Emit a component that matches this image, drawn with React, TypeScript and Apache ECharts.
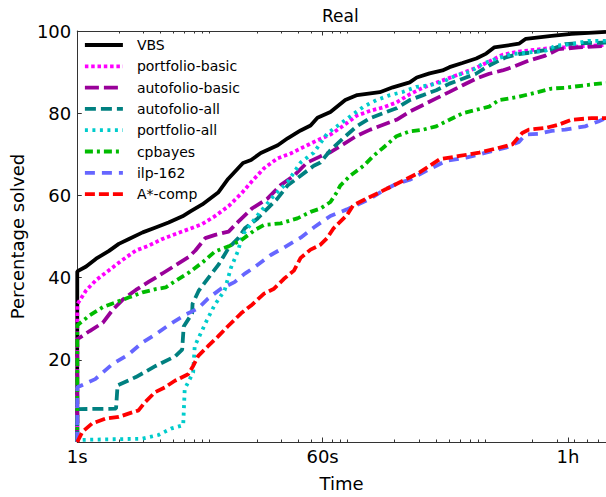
import React, { useEffect, useRef } from 'react';
import * as echarts from 'echarts';

const FONT = 'DejaVu Sans';

const seriesNames = ['VBS', 'portfolio-basic', 'autofolio-basic', 'autofolio-all', 'portfolio-all', 'cpbayes', 'ilp-162', 'A*-comp'];
const seriesColors = ['#000000', '#ff00ff', '#990099', '#008080', '#00cccc', '#00bb00', '#6666ff', '#ff0000'];
const seriesDash: (string | number[])[] = ['solid', [3.5, 2.8], [14, 5], [11, 5], [3, 4.5], [8, 4, 3, 4], [10, 7], [10, 4]];

const xTickValues = [1, 60, 3600];
const xTickLabels = ['1s', '60s', '1h'];
const xMinorTicks = [2, 3, 4, 5, 6, 7, 8, 9, 20, 30, 40, 50, 70, 80, 90, 200, 300, 400, 500, 600, 700, 800, 900, 2000, 3000, 4000, 5000, 6000];
const xMin = 1;
const xMax = 6800;

const vbs: number[][] = [[1,0],[1,41.5],[1.16,42.7],[1.37,44.6],[1.7,46.5],[2.0,48.2],[2.37,49.4],[2.98,51.0],[3.7,52.2],[4.59,53.4],[5.79,54.9],[6.61,56.1],[8.06,57.8],[10.5,60.7],[12.4,64.0],[15.9,67.9],[18.2,68.6],[21.4,70.3],[28.4,72.2],[33.5,73.9],[41.6,75.8],[49.1,77.0],[55.1,78.9],[68.4,80.3],[87.6,83.2],[107,84.4],[156,85.1],[194,86.3],[257,87.5],[289,88.7],[358,89.7],[444,90.4],[499,91.2],[619,92.2],[780,93.3],[921,94.5],[1051,96.0],[1590,96.9],[1785,98.1],[2747,98.8],[3826,99.3],[6800,99.8]];

const portfolioBasic: number[][] = [[1,0],[1,33.5],[1.16,36.9],[1.37,39.4],[1.7,41.8],[2.11,44.2],[2.66,46.6],[3.31,47.8],[4.14,49.4],[5.15,50.6],[6.43,51.8],[8.02,53.0],[10,55.0],[12.5,57.4],[15.6,60.6],[18.4,63.4],[22.6,66.6],[28.2,69.0],[35.2,70.2],[43.9,71.8],[54.8,73.4],[68.4,74.8],[85.2,77.0],[106,79.4],[133,80.6],[165,81.4],[206,82.6],[257,84.6],[321,86.2],[400,87.4],[499,88.6],[622,89.8],[776,91.0],[968,92.6],[1206,94.2],[1590,95.0],[2613,95.8],[6800,96.6]];

const autofolioBasic: number[][] = [[1,0],[1,25],[1.23,27.0],[1.53,29.0],[1.81,32.2],[2.13,34.6],[2.66,37.0],[3.31,39.0],[4.14,41.0],[5.15,43.0],[6.43,45.0],[7.18,46.6],[8.47,49.6],[10,50.4],[12.5,51.2],[14.7,53.6],[18.4,56.8],[23.9,59.2],[29.8,62.5],[37.2,64.8],[46.4,68.0],[57.9,69.5],[68.4,70.5],[85.2,72.5],[106,74.5],[133,76.0],[165,77.2],[206,78.4],[257,80.4],[321,82.0],[400,83.6],[499,85.2],[622,86.8],[776,88.4],[968,89.6],[1206,90.4],[1423,91.2],[1876,92.8],[2472,94.0],[3083,95.6],[4295,96.0],[6800,96.4]];

const autofolioAll: number[][] = [[1,0],[1,8.0],[1.91,8.1],[1.96,13.8],[2.66,15.8],[3.7,18.5],[5.15,20.9],[5.76,22.5],[5.91,28.1],[6.8,31.3],[6.85,33.6],[7.59,36.8],[8.95,40.0],[10.6,43.2],[12.5,47.2],[14.7,49.6],[16.4,52.0],[20.3,54.4],[23.9,56.8],[28.2,59.2],[33.4,62.4],[41.6,64.8],[51.8,67.2],[57.9,68.0],[68.4,71.0],[85.2,74.0],[106,76.8],[133,78.8],[165,80.0],[206,81.2],[257,83.2],[321,84.4],[400,85.6],[499,87.2],[622,88.4],[776,89.6],[968,91.6],[1276,93.6],[1590,94.4],[1983,94.8],[2747,95.6],[3444,96.8],[4295,97.0],[6800,97.2]];

const portfolioAll: number[][] = [[1,0],[1,0.5],[2.94,0.8],[3.87,1.7],[4.82,3.3],[5.86,4.1],[6.01,12.9],[6.92,16.9],[7.1,23.3],[8.61,29.3],[9.89,33.3],[11.7,36.9],[13.0,42.4],[14.6,46.4],[15.8,50.4],[20.3,55.2],[26.7,60.0],[33.4,63.2],[41.6,68.0],[51.8,70.4],[64.7,75.0],[76.3,76.8],[95.1,79.2],[119,81.6],[148,83.2],[185,84.4],[230,85.2],[287,86.4],[358,86.8],[444,87.6],[557,89.2],[695,90.0],[865,92.0],[1081,93.2],[1423,94.4],[1876,94.8],[2472,95.2],[2919,96.4],[3826,96.8],[5069,97.6],[6800,97.6]];

const cpbayes: number[][] = [[1,0],[1,28.4],[1.23,30.8],[1.53,32.8],[1.91,34.0],[2.38,35.2],[2.97,36.4],[3.7,37.2],[4.37,37.6],[5.15,39.2],[6.43,41.2],[8.02,43.6],[10,46.4],[12.5,47.6],[15.6,49.2],[19.4,51.6],[22.6,52.8],[29.8,53.2],[39.4,54.4],[49.1,56.0],[57.9,56.8],[68.4,58.4],[76.3,60.8],[80.6,62.4],[90.1,64.0],[95.1,64.8],[119,67.2],[140,69.6],[165,71.6],[206,74.4],[257,75.6],[321,76.0],[400,76.8],[499,78.4],[622,80.0],[776,80.8],[968,81.6],[1142,83.2],[1590,84.0],[2214,85.2],[2747,86.0],[3444,86.2],[4802,86.8],[6800,87.4]];

const ilp162: number[][] = [[1,0],[1,13.3],[1.35,15.3],[1.79,18.9],[2.35,21.3],[2.94,24.1],[3.66,26.1],[4.82,28.9],[6.01,30.9],[7.51,32.5],[8.86,34.9],[11.0,37.3],[13.8,38.9],[16.3,40.9],[19.2,42.5],[25.3,45.5],[31.5,47.3],[41.6,49.7],[51.8,52.2],[68.4,55.0],[90.1,56.6],[112,58.0],[133,59.2],[165,61.2],[206,62.8],[257,63.8],[358,66.4],[472,68.4],[658,69.2],[916,70.4],[1276,71.6],[1590,73.0],[1778,74.8],[2214,75.0],[2747,75.7],[3444,76.0],[4802,76.8],[5983,78.0],[6800,78.8]];

const aStarComp: number[][] = [[1,0],[1.09,2.5],[1.28,4.5],[1.6,5.7],[2.0,6.1],[2.35,6.9],[2.78,7.7],[3.1,9.7],[3.66,12.1],[4.32,13.3],[5.1,14.9],[6.36,16.5],[6.92,18.5],[7.51,20.9],[8.86,23.3],[10.5,25.7],[12.3,28.1],[15.4,31.3],[18.2,33.2],[22.6,36.1],[26.7,37.3],[31.5,39.7],[37.2,41.7],[41.6,44.8],[49.1,46.8],[57.9,48.0],[64.7,49.6],[72.1,52.0],[90.1,55.2],[100,57.6],[125,59.2],[175,61.6],[218,63.2],[303,65.6],[423,68.8],[589,69.6],[820,70.4],[1142,71.6],[1423,72.4],[1680,75.2],[1876,76.0],[2472,76.4],[3083,77.2],[3826,78.4],[5358,78.8],[6800,78.8]];

const seriesData = [vbs, portfolioBasic, autofolioBasic, autofolioAll, portfolioAll, cpbayes, ilp162, aStarComp];

const yTicks = [20, 40, 60, 80, 100];

const AXIS_COLOR = '#333';
const LINE_WIDTH = 3.8;

function makeXAxis(position: 'top' | 'bottom', major: boolean, withLabels: boolean, name?: string) {
  return {
    type: 'log',
    logBase: 10,
    position,
    min: xMin,
    max: xMax,
    gridIndex: 0,
    name: name || '',
    nameLocation: 'middle',
    nameGap: 32,
    nameTextStyle: { fontSize: 18, fontFamily: FONT, color: '#000' },
    axisLine: { show: major, lineStyle: { color: AXIS_COLOR, width: 1 } },
    axisTick: {
      show: true,
      inside: true,
      length: major ? 4.5 : 2.5,
      customValues: major ? xTickValues : xMinorTicks,
      lineStyle: { color: AXIS_COLOR, width: 1 },
    },
    axisLabel: {
      show: withLabels,
      customValues: xTickValues,
      formatter: (v: number) => {
        const i = xTickValues.findIndex((t) => Math.abs(t - v) < 1e-6 * t);
        return i >= 0 ? xTickLabels[i] : '';
      },
      fontSize: 18,
      fontFamily: FONT,
      color: '#000',
      margin: 5,
    },
    splitLine: { show: false },
    minorTick: { show: false },
    minorSplitLine: { show: false },
  };
}

export default function App() {
  const ref = useRef<HTMLDivElement>(null);
  useEffect(() => {
    if (!ref.current) return;
    const chart = echarts.init(ref.current, null, { renderer: 'svg' });
    const option: any = {
      animation: false,
      backgroundColor: '#ffffff',
      title: {
        text: 'Real',
        left: 322,
        top: 7,
        padding: 0,
        textStyle: { fontSize: 17, fontWeight: 'normal', fontFamily: FONT, color: '#000' },
      },
      grid: { left: 75, right: -2, top: 31, bottom: 50, containLabel: false },
      legend: {
        orient: 'vertical',
        left: 78,
        top: 33,
        itemWidth: 38,
        itemHeight: 14,
        itemGap: 7.3,
        data: seriesNames,
        itemStyle: { opacity: 0, borderWidth: 0 },
        lineStyle: { width: LINE_WIDTH },
        textStyle: { fontSize: 14, fontFamily: FONT, color: '#000', padding: [0, 0, 0, 9] },
      },
      xAxis: [
        makeXAxis('bottom', true, true, 'Time'),
        makeXAxis('top', true, false),
        makeXAxis('bottom', false, false),
        makeXAxis('top', false, false),
      ],
      yAxis: {
        type: 'value',
        min: 0,
        max: 100,
        interval: 20,
        name: 'Percentage solved',
        nameLocation: 'middle',
        nameGap: 46,
        nameTextStyle: { fontSize: 18, fontFamily: FONT, color: '#000' },
        axisLine: { show: true, lineStyle: { color: AXIS_COLOR, width: 1 } },
        axisTick: { show: true, inside: true, length: 4.5, lineStyle: { color: AXIS_COLOR } },
        axisLabel: {
          fontSize: 18,
          fontFamily: FONT,
          color: '#000',
          margin: 6,
          formatter: (v: number) => (yTicks.indexOf(v) >= 0 ? String(v) : ''),
        },
        splitLine: { show: false },
      },
      series: seriesNames.map((name, i) => ({
        name,
        type: 'line',
        xAxisIndex: 0,
        yAxisIndex: 0,
        data: seriesData[i],
        showSymbol: false,
        symbol: 'none',
        color: seriesColors[i],
        lineStyle: { color: seriesColors[i], width: LINE_WIDTH, type: seriesDash[i] },
        emphasis: { disabled: true },
        z: 2 + i,
      })),
    };
    chart.setOption(option);
    return () => chart.dispose();
  }, []);
  return (
    <div
      ref={ref}
      style={{ position: 'absolute', left: 0, top: 0, width: 606, height: 497, background: '#fff' }}
    />
  );
}
